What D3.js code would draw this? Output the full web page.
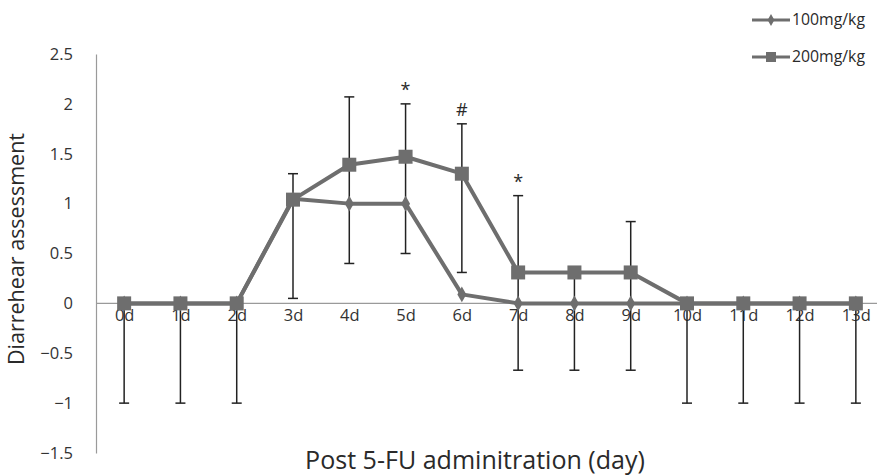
<!DOCTYPE html>
<html>
<head>
<meta charset="utf-8">
<script src="https://cdn.jsdelivr.net/npm/d3@7"></script>
<style>
  html, body { margin: 0; padding: 0; background: #fff; }
  svg { display: block; }
</style>
</head>
<body>
<svg id="chart" width="877" height="475"></svg>
<script>
// Days after 5-FU administration
const days = ["0d","1d","2d","3d","4d","5d","6d","7d","8d","9d","10d","11d","12d","13d"];
// Mean diarrhea score per dose group
const dose100 = [0, 0, 0, 1.05, 1.0, 1.0, 0.09, 0, 0, 0, 0, 0, 0, 0];
const dose200 = [0, 0, 0, 1.04, 1.39, 1.47, 1.3, 0.31, 0.31, 0.31, 0, 0, 0, 0];
// Error bar extents (lower / upper)
const errLow  = [-1, -1, -1, 0.05, 0.4, 0.5, 0.31, -0.67, -0.67, -0.67, -1, -1, -1, -1];
const errHigh = [0, 0, 0, 1.3, 2.07, 2.0, 1.8, 1.08, 0.31, 0.82, 0, 0, 0, 0];
// Significance marks
const marks = [{day: "5d", text: "*", y: 2.0}, {day: "6d", text: "#", y: 1.8}, {day: "7d", text: "*", y: 1.08}];
const yTicks = [2.5, 2, 1.5, 1, 0.5, 0, -0.5, -1, -1.5];
const seriesNames = ["100mg/kg", "200mg/kg"];

const svg = d3.select("#chart");
const font = "'Open Sans', sans-serif";
const grey = "#6e6e6e";
const ink = "#2a2a2a";

// scale a text's font size so it spans the given width
function fitWidth(sel, width) {
  sel.each(function() {
    const base = parseFloat(this.getAttribute("font-size"));
    const w = this.getComputedTextLength();
    if (w > 0) this.setAttribute("font-size", (base * width / w).toFixed(2));
  });
}

const x = d3.scalePoint().domain(days).range([96, 884]).padding(0.5);
const y = d3.scaleLinear().domain([-1.5, 2.5]).range([453, 54]);

// Y axis
const yAxis = svg.append("g").attr("transform", "translate(96,0)")
  .call(d3.axisLeft(y).tickValues(yTicks).tickSize(0).tickPadding(23)
    .tickFormat(d => d3.format("")(d)));
yAxis.select(".domain").attr("stroke", "#9a9a9a").attr("stroke-width", 1.2);
yAxis.selectAll("text").attr("font-family", font).attr("font-size", 16.5).attr("fill", "#333");

// Zero baseline with category labels
const xAxis = svg.append("g").attr("transform", `translate(0,${y(0)})`)
  .call(d3.axisBottom(x).tickSize(0).tickPadding(6));
xAxis.select(".domain").attr("d", `M96,0H877`).attr("stroke", "#9a9a9a").attr("stroke-width", 1.2);
xAxis.selectAll("text").attr("font-family", font).attr("font-size", 16.5).attr("fill", "#333");

// Error bars
const eb = svg.append("g").attr("stroke", "#222").attr("stroke-width", 1.5);
days.forEach((d, i) => {
  const cx = x(d);
  eb.append("line").attr("x1", cx).attr("x2", cx).attr("y1", y(errLow[i])).attr("y2", y(errHigh[i]));
  if (errLow[i] < dose200[i]) eb.append("line").attr("x1", cx - 5).attr("x2", cx + 5).attr("y1", y(errLow[i])).attr("y2", y(errLow[i]));
  if (errHigh[i] > dose200[i]) eb.append("line").attr("x1", cx - 5).attr("x2", cx + 5).attr("y1", y(errHigh[i])).attr("y2", y(errHigh[i]));
});

const line = d3.line().x((v, i) => x(days[i])).y(v => y(v));

// 100 mg/kg series
svg.append("path").datum(dose100).attr("d", line)
  .attr("fill", "none").attr("stroke", grey).attr("stroke-width", 4).attr("stroke-linejoin", "round");
svg.append("g").selectAll("path").data(dose100).join("path")
  .attr("d", d3.symbol(d3.symbolDiamond, 70))
  .attr("transform", (v, i) => `translate(${x(days[i])},${y(v)})`)
  .attr("fill", grey);

// 200 mg/kg series
svg.append("path").datum(dose200).attr("d", line)
  .attr("fill", "none").attr("stroke", grey).attr("stroke-width", 4).attr("stroke-linejoin", "round");
svg.append("g").selectAll("rect").data(dose200).join("rect")
  .attr("x", (v, i) => x(days[i]) - 7).attr("y", v => y(v) - 7)
  .attr("width", 14).attr("height", 14).attr("fill", grey);

// Significance marks
svg.append("g").selectAll("text").data(marks).join("text")
  .attr("x", m => x(m.day)).attr("y", m => y(m.y) - 8)
  .attr("text-anchor", "middle").attr("font-family", font).attr("font-size", 18).attr("fill", ink)
  .text(m => m.text);

// Axis titles
const xTitle = svg.append("text").attr("x", 475).attr("y", 469).attr("text-anchor", "middle")
  .attr("font-family", font).attr("font-size", 19).attr("fill", ink)
  .text("Post 5-FU adminitration (day)");
fitWidth(xTitle, 340);
const yTitle = svg.append("text").attr("transform", "translate(24,249) rotate(-90)").attr("text-anchor", "middle")
  .attr("font-family", font).attr("font-size", 17).attr("fill", ink)
  .text("Diarrehear assessment");
fitWidth(yTitle, 232);

// Legend
const legend = svg.append("g");
seriesNames.forEach((name, i) => {
  const ly = i === 0 ? 20 : 57;
  legend.append("line").attr("x1", 752).attr("x2", 790).attr("y1", ly).attr("y2", ly)
    .attr("stroke", grey).attr("stroke-width", 3);
  if (i === 0) {
    legend.append("path").attr("d", d3.symbol(d3.symbolDiamond, 40)).attr("transform", `translate(771,${ly})`).attr("fill", grey);
  } else {
    legend.append("rect").attr("x", 766).attr("y", ly - 5).attr("width", 10).attr("height", 10).attr("fill", grey);
  }
  const t = legend.append("text").attr("x", 792).attr("y", ly + 4.5).attr("font-family", font)
    .attr("font-size", 13).attr("fill", ink).text(name);
  fitWidth(t, 73);
});
</script>
</body>
</html>
